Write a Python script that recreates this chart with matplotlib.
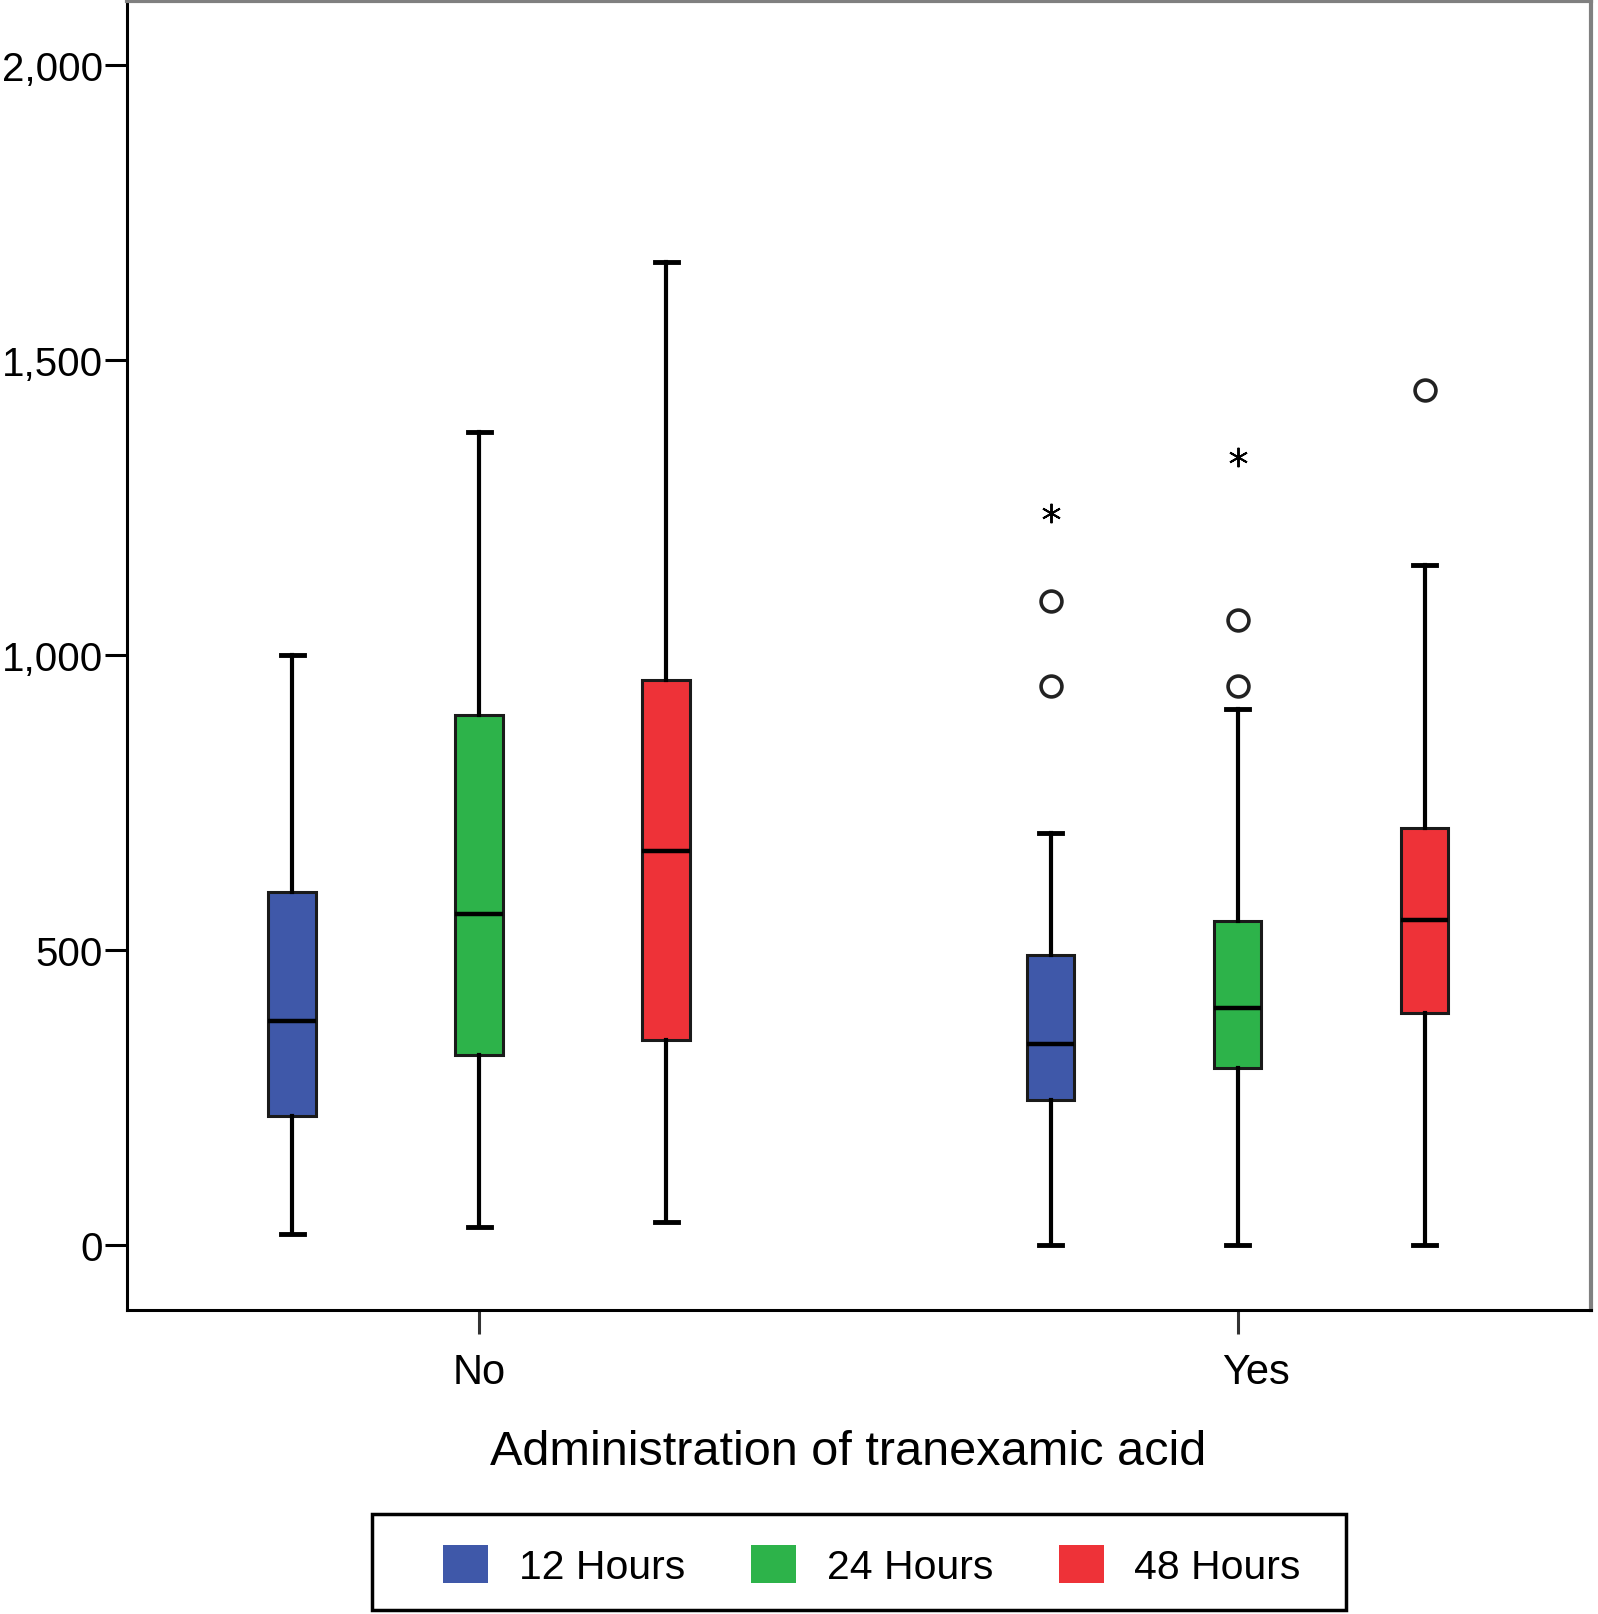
import numpy as np
import matplotlib.pyplot as plt
import matplotlib.transforms as mtransforms
from matplotlib.patches import Patch, Rectangle
from matplotlib.ticker import FuncFormatter

plt.rcParams['font.family'] = ['Liberation Sans', 'DejaVu Sans']

# data
groups = ["No", "Yes"]
series = ["12 Hours", "24 Hours", "48 Hours"]
colors = ["#3F58A9", "#2DB34A", "#EE3238"]

# order: No-12, No-24, No-48, Yes-12, Yes-24, Yes-48
whis_lo = [19, 30, 40, 0, 0, 0]
q1 = [218, 322, 348, 246, 300, 394]
med = [380, 561, 667, 340, 401, 551]
q3 = [599, 899, 958, 491, 549, 706]
whis_hi = [1000, 1378, 1666, 699, 909, 1152]
outliers = [[], [], [], [948, 1091], [948, 1059], [1449]]
extremes = [[], [], [], [1240], [1336], []]

offset = 0.2466
box_w = 0.063

fig = plt.figure(figsize=(15.98, 16.15), dpi=100)
ax = fig.add_axes([0.0792, 0.1882, 0.9164, 0.8106])

stats = []
positions = []
for i in range(6):
    g = i // 3
    s = i % 3
    positions.append(g + (s - 1) * offset)
    stats.append(dict(med=med[i], q1=q1[i], q3=q3[i], whislo=whis_lo[i],
                      whishi=whis_hi[i], fliers=outliers[i]))

bp = ax.bxp(stats, positions=positions, widths=box_w, capwidths=0.03,
            patch_artist=True, showfliers=True,
            boxprops=dict(edgecolor="#1a1a1a", linewidth=2.2),
            medianprops=dict(color="black", linewidth=3.2),
            whiskerprops=dict(color="black", linewidth=3.0),
            capprops=dict(color="black", linewidth=3.5),
            flierprops=dict(marker="o", markersize=15, markerfacecolor="none",
                            markeredgecolor="#222222", markeredgewidth=2.6))
for i, box in enumerate(bp["boxes"]):
    box.set_facecolor(colors[i % 3])

for i in range(6):
    if extremes[i]:
        ax.plot([positions[i]] * len(extremes[i]), extremes[i], linestyle="none",
                marker=(6, 2, 0), markersize=14, markeredgewidth=1.4, color="black")

ax.set_xlim(-0.465, 1.466)
ax.set_ylim(-110, 2108)
ax.set_xticks([0, 1])
ax.set_xticklabels(groups, fontsize=30)
ax.set_yticks([0, 500, 1000, 1500, 2000])
ax.yaxis.set_major_formatter(FuncFormatter(lambda v, p: f"{int(v):,}"))
ax.tick_params(axis="y", labelsize=29, length=16, width=2.2, pad=1)
ax.tick_params(axis="x", length=17, width=2.2, pad=13, color="#333333")

# SPSS puts the "Yes" label a little right of its tick
ax.get_xticklabels()[1].set_transform(
    ax.get_xticklabels()[1].get_transform()
    + mtransforms.ScaledTranslation(0.18, 0, fig.dpi_scale_trans))

for side in ["left", "bottom"]:
    ax.spines[side].set_linewidth(2.2)
    ax.spines[side].set_color("black")
for side in ["top", "right"]:
    ax.spines[side].set_linewidth(3)
    ax.spines[side].set_color("#808080")

ax.set_xlabel("Administration of tranexamic acid", fontsize=35)
ax.xaxis.set_label_coords(0.4925, -0.091)

handles = [Patch(facecolor=c, edgecolor="none") for c in colors]
leg = fig.legend(handles, series, loc="center", bbox_to_anchor=(0.5457, 0.0299),
                 ncol=3, fontsize=29.5, frameon=False,
                 handlelength=1.1, handleheight=1.05, handletextpad=0.75,
                 columnspacing=1.6, borderpad=0.3, borderaxespad=0)
fig.patches.append(Rectangle((0.2328, 0.0025), 0.6095, 0.0594, transform=fig.transFigure,
                             fill=False, edgecolor="black", linewidth=2.5))

fig.savefig("out.png", dpi=100)
